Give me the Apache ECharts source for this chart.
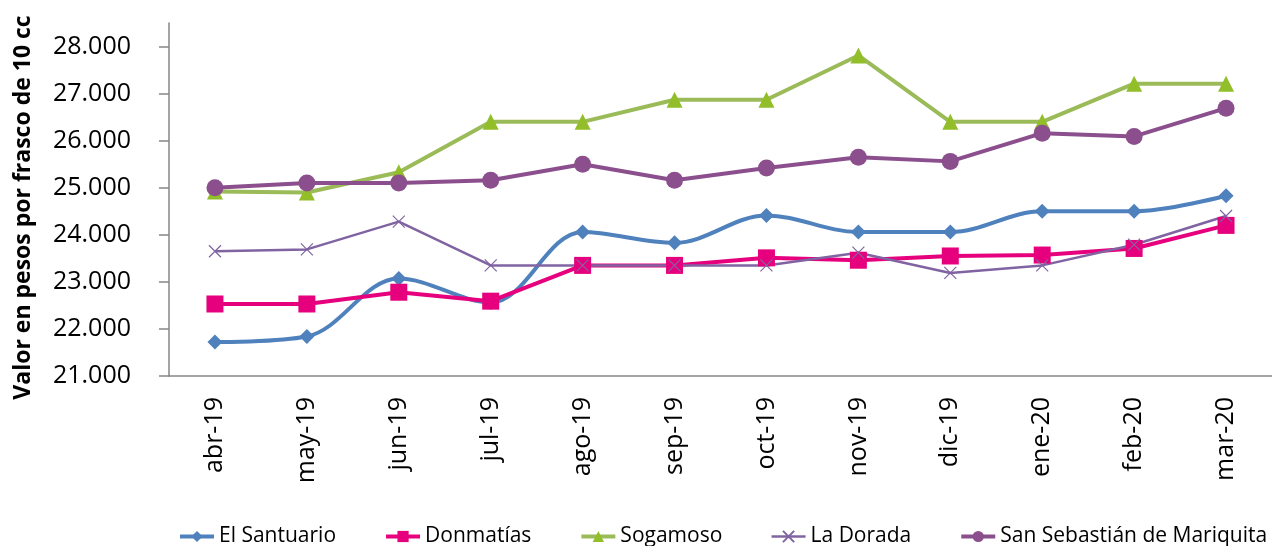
<!DOCTYPE html>
<html>
<head>
<meta charset="utf-8">
<script src="https://cdn.jsdelivr.net/npm/echarts@6/dist/echarts.min.js"></script>
<style>
  html, body { margin: 0; padding: 0; background: #fff; }
  #chart { width: 1272px; height: 546px; }
</style>
</head>
<body>
<div id="chart"></div>
<script>
var months = ['abr-19', 'may-19', 'jun-19', 'jul-19', 'ago-19', 'sep-19', 'oct-19', 'nov-19', 'dic-19', 'ene-20', 'feb-20', 'mar-20'];
var elSantuario = [21720, 21840, 23070, 22560, 24060, 23830, 24410, 24060, 24060, 24500, 24500, 24830];
var donmatias = [22530, 22530, 22780, 22590, 23350, 23350, 23510, 23460, 23550, 23570, 23710, 24200];
var sogamoso = [24920, 24900, 25330, 26400, 26400, 26870, 26870, 27810, 26400, 26400, 27210, 27210];
var laDorada = [23650, 23690, 24280, 23350, 23350, 23350, 23350, 23620, 23190, 23350, 23790, 24400];
var sanSebastian = [25000, 25100, 25100, 25160, 25500, 25160, 25420, 25650, 25560, 26160, 26090, 26690];

var font = '"Open Sans", "Noto Sans", sans-serif';
var axisGray = '#868686';

function numFmt(v) {
  return String(v).replace(/\B(?=(\d{3})+(?!\d))/g, '.');
}

var chart = echarts.init(document.getElementById('chart'));

chart.setOption({
  animation: false,
  textStyle: { fontFamily: font },
  grid: { left: 169, right: -9, top: 23, bottom: 170 },
  legend: {
    left: 178,
    top: 526,
    padding: 0,
    itemGap: 48,
    itemWidth: 34,
    itemHeight: 14,
    lineStyle: { width: 4 },
    textStyle: { fontSize: 21, color: '#000', fontFamily: font },
    data: [
      'El Santuario', 'Donmatías', 'Sogamoso',
      { name: 'La Dorada', lineStyle: { width: 2.5 } },
      'San Sebastián de Mariquita'
    ]
  },
  xAxis: {
    type: 'category',
    data: months,
    boundaryGap: true,
    axisLine: { lineStyle: { color: axisGray, width: 1.5 } },
    axisTick: { show: false },
    axisLabel: { rotate: 90, fontSize: 25, color: '#000', margin: 21 }
  },
  yAxis: {
    type: 'value',
    min: 21000,
    max: 28500,
    interval: 1000,
    name: 'Valor en pesos por frasco de 10 cc',
    nameLocation: 'middle',
    nameGap: 134,
    nameTextStyle: { fontSize: 23, fontWeight: 'bold', color: '#000', padding: [0, 16, 0, 0] },
    axisLine: { show: true, lineStyle: { color: axisGray, width: 1.5 } },
    axisTick: { show: true, length: 10, lineStyle: { color: axisGray, width: 1.5 } },
    splitLine: { show: false },
    axisLabel: {
      fontSize: 25, color: '#000', margin: 38, showMaxLabel: false,
      formatter: numFmt
    }
  },
  series: [
    {
      name: 'El Santuario', type: 'line', data: elSantuario, smooth: 0.35,
      symbol: 'diamond', symbolSize: 15,
      lineStyle: { color: '#4F81BD', width: 4 },
      itemStyle: { color: '#4F81BD' }
    },
    {
      name: 'Donmatías', type: 'line', data: donmatias,
      symbol: 'rect', symbolSize: 17,
      lineStyle: { color: '#E6007E', width: 4 },
      itemStyle: { color: '#E6007E' }
    },
    {
      name: 'Sogamoso', type: 'line', data: sogamoso,
      symbol: 'triangle', symbolSize: 16,
      lineStyle: { color: '#9BBB59', width: 4 },
      itemStyle: { color: '#92BE2A' }
    },
    {
      name: 'La Dorada', type: 'line', data: laDorada,
      symbol: 'path://M0,0L10,10M10,0L0,10', symbolSize: 12,
      lineStyle: { color: '#8064A2', width: 2.5 },
      itemStyle: { color: '#8064A2', borderColor: '#8064A2', borderWidth: 1.2 }
    },
    {
      name: 'San Sebastián de Mariquita', type: 'line', data: sanSebastian,
      symbol: 'circle', symbolSize: 17,
      lineStyle: { color: '#8B4F8D', width: 4 },
      itemStyle: { color: '#8B4F8D' }
    }
  ]
});
</script>
</body>
</html>
